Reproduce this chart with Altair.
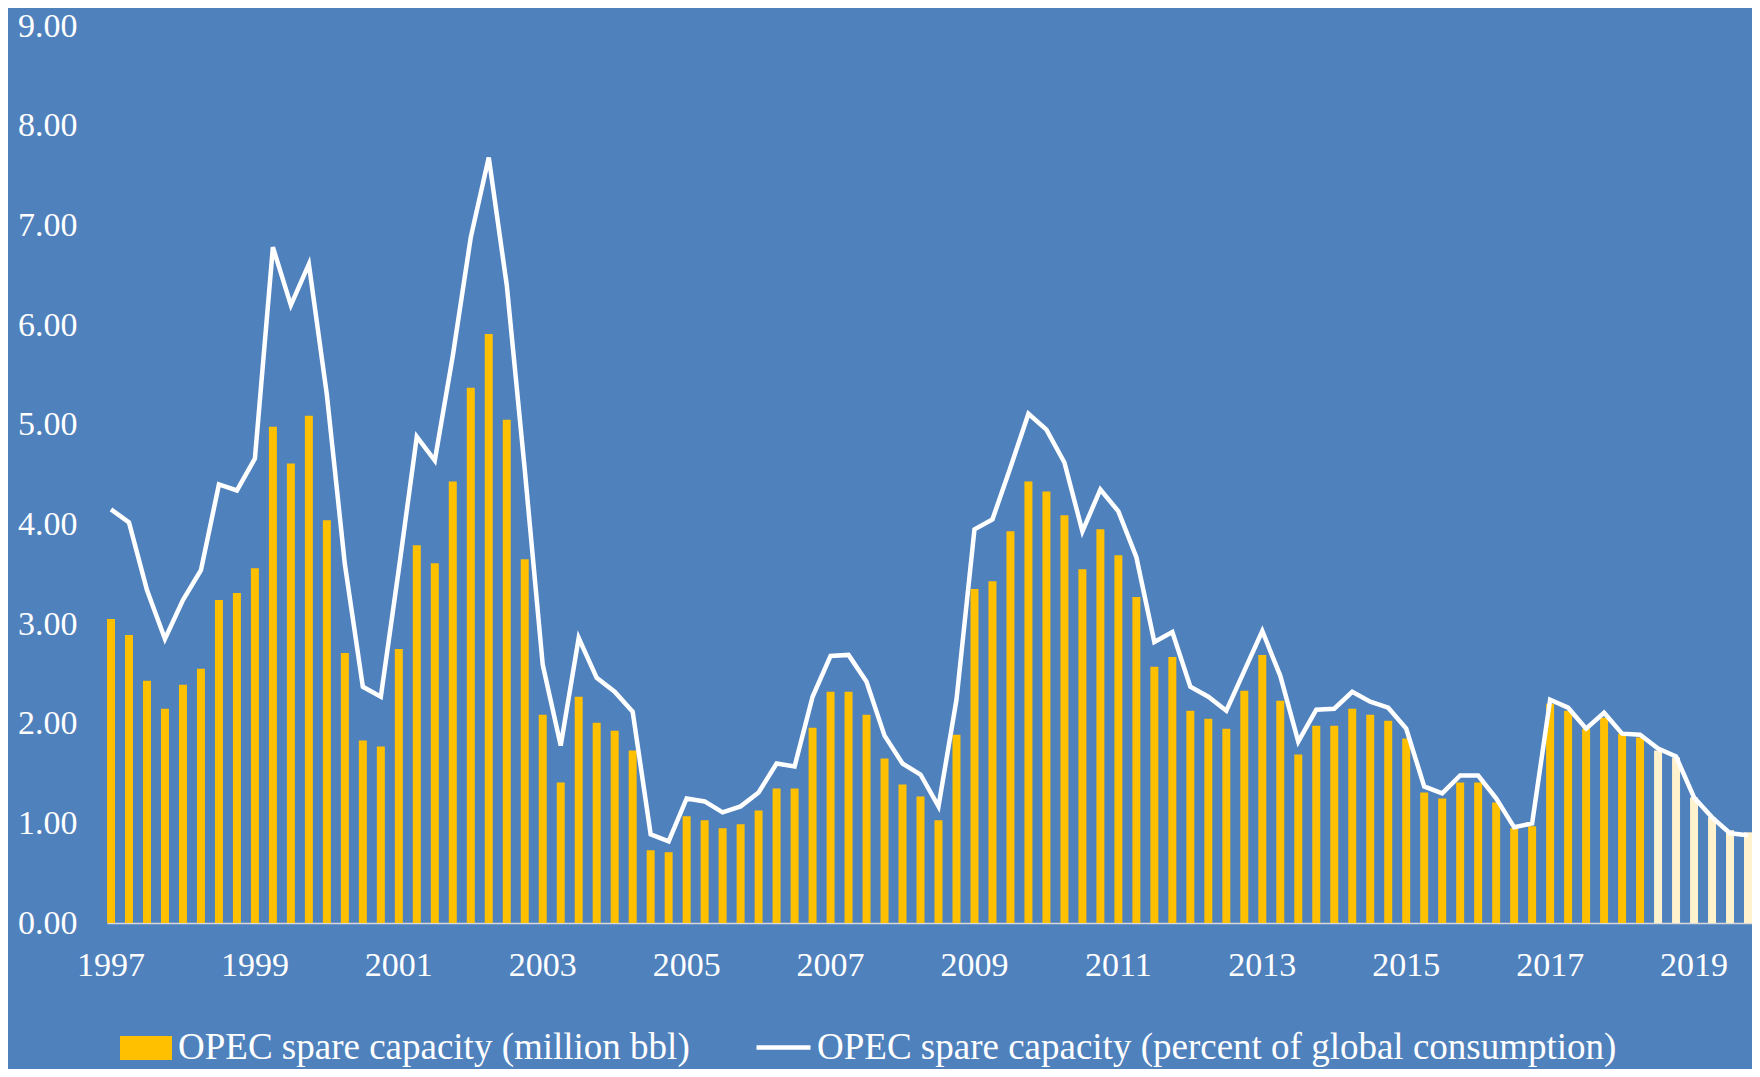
import altair as alt
import pandas as pd

years = list(range(1997, 2020))
quarters = [f"{y} Q{q}" for y in years for q in range(1, 5)]

spare_mbbl = [
    3.05, 2.89, 2.43, 2.15,
    2.39, 2.55, 3.24, 3.31,
    3.56, 4.98, 4.61, 5.09,
    4.04, 2.71, 1.83, 1.77,
    2.75, 3.79, 3.61, 4.43,
    5.37, 5.91, 5.05, 3.65,
    2.09, 1.41, 2.27, 2.01,
    1.93, 1.73, 0.73, 0.71,
    1.07, 1.03, 0.95, 0.99,
    1.13, 1.35, 1.35, 1.96,
    2.32, 2.32, 2.09, 1.65,
    1.39, 1.27, 1.03, 1.89,
    3.35, 3.43, 3.93, 4.43,
    4.33, 4.09, 3.55, 3.95,
    3.69, 3.27, 2.57, 2.67,
    2.13, 2.05, 1.95, 2.33,
    2.69, 2.23, 1.69, 1.98,
    1.98, 2.15, 2.09, 2.03,
    1.85, 1.31, 1.25, 1.41,
    1.41, 1.21, 0.95, 0.97,
    2.20, 2.13, 1.95, 2.06,
    1.90, 1.86, 1.73, 1.66,
    1.26, 1.06, 0.93, 0.91,
]

spare_pct = [
    4.15, 4.02, 3.34, 2.85,
    3.24, 3.54, 4.40, 4.34,
    4.66, 6.78, 6.20, 6.61,
    5.30, 3.60, 2.37, 2.27,
    3.55, 4.88, 4.64, 5.69,
    6.88, 7.68, 6.40, 4.55,
    2.59, 1.78, 2.86, 2.46,
    2.32, 2.12, 0.89, 0.82,
    1.25, 1.22, 1.11, 1.17,
    1.31, 1.60, 1.57, 2.27,
    2.68, 2.69, 2.42, 1.88,
    1.60, 1.49, 1.17, 2.24,
    3.95, 4.05, 4.57, 5.11,
    4.95, 4.62, 3.93, 4.35,
    4.13, 3.67, 2.82, 2.92,
    2.37, 2.27, 2.13, 2.53,
    2.93, 2.48, 1.82, 2.14,
    2.15, 2.32, 2.22, 2.16,
    1.95, 1.37, 1.30, 1.48,
    1.48, 1.25, 0.96, 1.00,
    2.24, 2.16, 1.95, 2.11,
    1.90, 1.89, 1.75, 1.67,
    1.26, 1.06, 0.90, 0.88,
]

first_forecast = "2018 Q3"
y_ticks = [0, 1, 2, 3, 4, 5, 6, 7, 8, 9]

bar_name = "OPEC spare capacity (million bbl)"
line_name = "OPEC spare capacity (percent of global consumption)"

fc_index = quarters.index(first_forecast)
df = pd.DataFrame({
    "quarter": quarters,
    "mbbl": spare_mbbl,
    "pct": spare_pct,
    "forecast": [i >= fc_index for i in range(len(quarters))],
    "bar_series": bar_name,
    "line_series": line_name,
})

FONT = "Liberation Serif"
BG = "#4F81BD"

# label only the first quarter of odd years
x_label_expr = (
    "(slice(datum.label, 5) == 'Q1' && toNumber(slice(datum.label, 0, 4)) % 2 == 1)"
    " ? slice(datum.label, 0, 4) : ''"
)

x_enc = alt.X(
    "quarter:O",
    sort=quarters,
    scale=alt.Scale(paddingInner=0.556, paddingOuter=0),
    axis=alt.Axis(
        title=None,
        labelExpr=x_label_expr,
        labelAngle=0,
        labelOverlap=False,
        labelBound=False,
        labelFlush=False,
        ticks=False,
        domainColor="#D9D9D9",
        domainWidth=1.5,
        labelColor="white",
        labelFont=FONT,
        labelFontSize=34,
        labelPadding=25,
    ),
)

y_scale = alt.Scale(domain=[0, 9], nice=False)

bars = alt.Chart(df).mark_bar(strokeWidth=0).encode(
    x=x_enc,
    y=alt.Y(
        "mbbl:Q",
        scale=y_scale,
        axis=alt.Axis(
            title=None,
            values=y_ticks,
            format=".2f",
            grid=False,
            ticks=False,
            domain=False,
            labelColor="white",
            labelFont=FONT,
            labelFontSize=34,
            labelPadding=30,
        ),
    ),
    fill=alt.condition(
        "datum.forecast",
        alt.value("#FFF2CC"),
        alt.Fill(
            "bar_series:N",
            scale=alt.Scale(domain=[bar_name], range=["#FFC000"]),
            legend=alt.Legend(
                title=None,
                orient="none",
                legendX=13,
                legendY=996,
                padding=0,
                symbolType="M-1,-0.46H1V0.46H-1Z",
                symbolSize=2704,
                symbolStrokeWidth=0,
                labelColor="white",
                labelFont=FONT,
                labelFontSize=37,
                labelOffset=6,
                labelLimit=1000,
            ),
        ),
    ),
)

line = alt.Chart(df).mark_line(strokeWidth=4.5).encode(
    x=x_enc,
    y=alt.Y("pct:Q", scale=y_scale),
    stroke=alt.Stroke(
        "line_series:N",
        scale=alt.Scale(domain=[line_name], range=["white"]),
        legend=alt.Legend(
            title=None,
            orient="none",
            legendX=647,
            legendY=992,
            padding=0,
            symbolType="stroke",
            symbolSize=2916,
            symbolStrokeWidth=4.5,
            labelColor="white",
            labelFont=FONT,
            labelFontSize=37,
            labelOffset=4,
            labelLimit=1000,
        ),
    ),
)

chart = (
    alt.layer(bars, line)
    .properties(
        width=1645,
        height=897,
        background=BG,
        padding={"left": 99, "top": 18, "right": 0, "bottom": 146},
        autosize=alt.AutoSizeParams(type="none"),
    )
    .configure_view(stroke=None)
)

chart.save("out.html", embed_options={"renderer": "svg", "actions": False})
